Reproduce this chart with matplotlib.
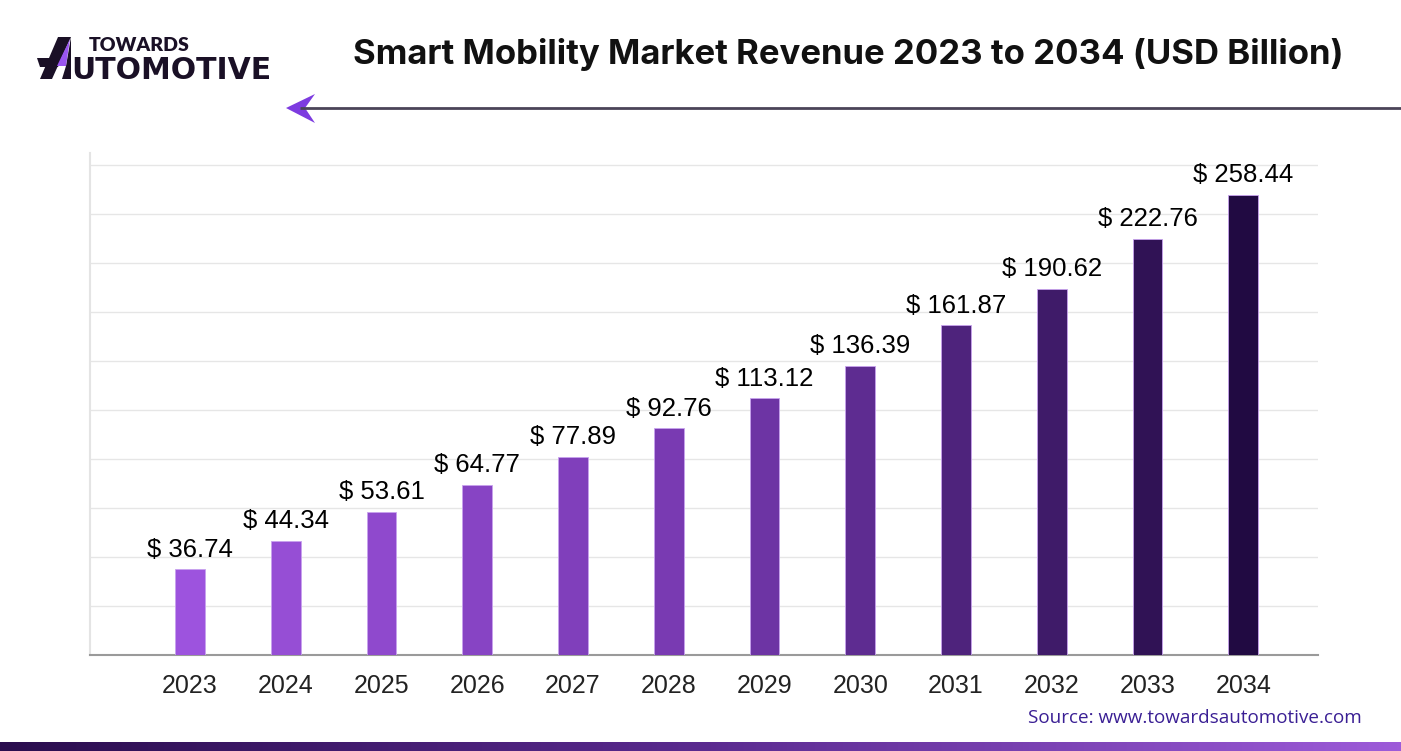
import matplotlib
matplotlib.use("Agg")
import matplotlib.pyplot as plt
import numpy as np
from matplotlib.colors import LinearSegmentedColormap
from matplotlib.patches import Polygon

# ---------------- data ----------------
years = ["2023", "2024", "2025", "2026", "2027", "2028",
         "2029", "2030", "2031", "2032", "2033", "2034"]
revenue = [36.74, 44.34, 53.61, 64.77, 77.89, 92.76,
           113.12, 136.39, 161.87, 190.62, 222.76, 258.44]
# drawn bar heights (in gridline units; axis has no scale)
bar_heights = [1.75, 2.33, 2.92, 3.47, 4.04, 4.63,
               5.24, 5.90, 6.73, 7.47, 8.49, 9.39]
title = "Smart Mobility Market Revenue 2023 to 2034 (USD Billion)"
source = "Source: www.towardsautomotive.com"

W, H = 1401, 751
fig = plt.figure(figsize=(W / 100, H / 100), dpi=100)
fig.patch.set_facecolor("white")

# ---------------- main axes ----------------
ax_l, ax_r, ax_t, ax_b = 90, 1318, 153, 655
ax = fig.add_axes([ax_l / W, (H - ax_b) / H, (ax_r - ax_l) / W, (ax_b - ax_t) / H])
cmap = LinearSegmentedColormap.from_list(
    "bars", ["#9d53de", "#7538ae", "#210a42"])
colors = [cmap(i / (len(years) - 1)) for i in range(len(years))]
x = np.arange(len(years))
ax.bar(x, bar_heights, width=0.31, color=colors, edgecolor="#c8a2ee",
       linewidth=0.6, zorder=3)
for xi, h, v in zip(x, bar_heights, revenue):
    ax.annotate(f"$ {v:.2f}", (xi, h), xytext=(0, 9), textcoords="offset points",
                ha="center", va="baseline", fontsize=18.5,
                family="Liberation Sans", color="#000000", zorder=4)

ax.set_xlim(-1.045, 11.78)
ax.set_ylim(0, 10.24)
ax.set_yticks(np.arange(1, 11))
ax.yaxis.grid(True, color="#e6e6e6", linewidth=1.0, zorder=0)
ax.tick_params(axis="y", left=False, labelleft=False)
ax.set_xticks(x)
ax.set_xticklabels(years, fontsize=18, family="Liberation Sans", color="#222222")
ax.tick_params(axis="x", bottom=False, pad=10.5)
for s in ["top", "right"]:
    ax.spines[s].set_visible(False)
ax.spines["left"].set_color("#e4e4e4")
ax.spines["left"].set_linewidth(1.5)
ax.spines["bottom"].set_color("#9a9a9a")
ax.spines["bottom"].set_linewidth(1.5)
ax.set_facecolor("none")

# ---------------- decorations (pixel coordinates) ----------------
deco = fig.add_axes([0, 0, 1, 1], zorder=-1)
deco.set_xlim(0, W)
deco.set_ylim(H, 0)
deco.axis("off")

# title
fig.text(848 / W, 1 - 64 / H, title, ha="center", va="baseline",
         fontsize=25, fontweight="bold", family="Inter", color="#111111")

# arrow line
deco.plot([300, W], [108, 108], color="#4b4458", linewidth=2.0,
          solid_capstyle="butt")
deco.add_patch(Polygon([(286, 108), (315, 94), (305, 108), (315, 123)],
                       closed=True, facecolor="#7d3be0", edgecolor="none"))

# logo
dark = "#1a1026"
deco.add_patch(Polygon([(58, 37), (71, 37), (52, 79), (40, 79)],
                       closed=True, facecolor=dark, edgecolor="none"))
deco.add_patch(Polygon([(37, 58), (62, 58), (58, 67), (40, 67)],
                       closed=True, facecolor=dark, edgecolor="none"))
deco.add_patch(Polygon([(71, 37), (71, 79), (62, 79), (66, 66)],
                       closed=True, facecolor=dark, edgecolor="none"))
deco.add_patch(Polygon([(70, 39), (66, 66), (57, 66)],
                       closed=True, facecolor="#9a55f0", edgecolor="none"))
deco.text(89, 51, "TOWARDS", ha="left", va="baseline", fontsize=14,
          fontweight="heavy", family="Lato", color=dark)
deco.text(71, 79, "UTOMOTIVE", ha="left", va="baseline", fontsize=21.5,
          fontweight="bold", family="DejaVu Sans", color=dark)

# source
fig.text(1362 / W, 1 - 718 / H, source, ha="right", va="center",
         fontsize=13.6, family="Open Sans", fontweight="medium", color="#3a1f94")

# bottom gradient band
band = fig.add_axes([0, 0, 1, 9 / H])
grad = np.linspace(0, 1, 512).reshape(1, -1)
band.imshow(grad, aspect="auto",
            cmap=LinearSegmentedColormap.from_list("band", ["#2a0d4e", "#5a2a8f", "#9d5bd9"]),
            extent=[0, 1, 0, 1])
band.axis("off")

fig.savefig("out.png", dpi=100, facecolor="white")
